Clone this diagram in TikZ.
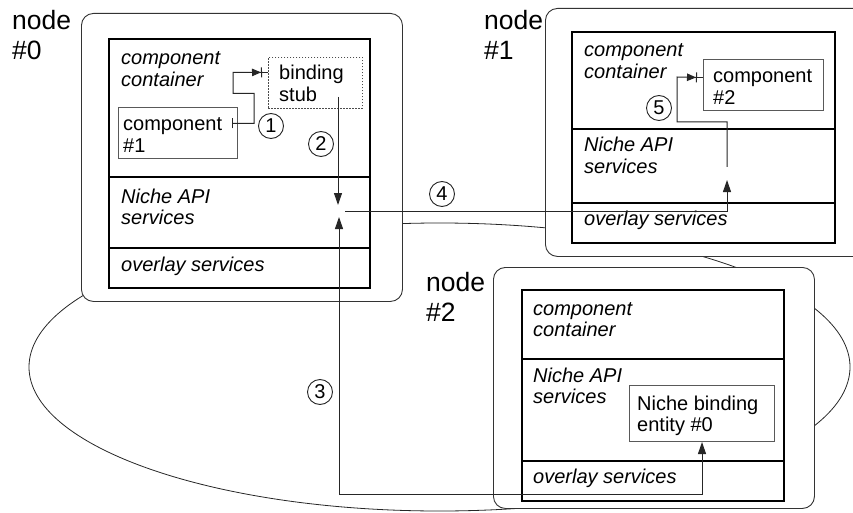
\documentclass[tikz,border=0pt]{standalone}
\usepackage{fontspec}
\setmainfont{Liberation Sans}
\usetikzlibrary{arrows.meta}
% two stacked lines whose baseline is the first line's baseline
\newcommand\twolines[2]{\vtop{\hbox{#1}\hbox{#2}}}
\tikzset{
  ring/.style={draw=black!85, line width=0.8pt},
  outerbox/.style={draw=black!80, line width=0.9pt, rounded corners=12pt, fill=white,
    anchor=north west, inner sep=0pt},
  layer/.style={draw=black, line width=2.4pt, fill=white, anchor=north west, inner sep=0pt},
  compbox/.style={draw=black!65, line width=1pt, fill=white, anchor=north west, inner sep=0pt},
  stubbox/.style={draw=black!70, line width=0.8pt, dash pattern=on 1.5pt off 1.5pt,
    fill=white, anchor=north west, inner sep=0pt},
  layertxt/.style={font=\fontsize{20}{21.5}\selectfont\itshape, inner sep=0pt, anchor=base west},
  boxtxt/.style={font=\fontsize{20}{21.5}\selectfont, inner sep=0pt, anchor=base west},
  nodelbl/.style={font=\fontsize{26.5}{30}\selectfont, inner sep=0pt, anchor=base west},
  numc/.style={circle, draw=black!85, line width=0.9pt, fill=white, minimum size=25pt,
    inner sep=0pt, font=\fontsize{20}{20}\selectfont},
  conn/.style={draw=black!85, line width=1pt},
  >={Triangle[length=12pt,width=8pt]},
  barend/.tip={Bar[width=10pt]},
  arrbar/.tip={Triangle[length=9pt,width=7.5pt] Bar[width=10pt]}
}
\begin{document}
\begin{tikzpicture}[x=1pt,y=-1pt]
\useasboundingbox (0,0) rectangle (853,513);

% overlay ring joining the three nodes
\draw[ring] (439.5,367) ellipse [x radius=410.5pt, y radius=144pt];

% ---- node #0 ----
\node[outerbox, minimum width=321pt, minimum height=288pt] (n0) at (81,13) {};
\node[layer, minimum width=261pt, minimum height=138pt] (cc0) at (108,38) {};
\node[layer, minimum width=261pt, minimum height=71pt] (api0) at (108,176) {};
\node[layer, minimum width=261pt, minimum height=40pt] (ov0) at (108,247) {};
\node[compbox, minimum width=119pt, minimum height=51pt] (comp1) at (118,107) {};
\node[stubbox, minimum width=94pt, minimum height=51pt] (stub) at (268,57) {};
\node[layertxt] (cc0t) at (121,65) {\twolines{component}{container}};
\node[layertxt] (api0t) at (121,203) {\twolines{Niche API}{services}};
\node[layertxt] (ov0t) at (121,271) {overlay services};
\node[boxtxt] (comp1t) at (123,131) {\twolines{component}{\#1}};
\node[boxtxt] (stubt) at (279,80) {\twolines{binding}{stub}};
\node[nodelbl] (l0) at (12,30) {\twolines{node}{\#0}};

% ---- node #1 ----
\node[outerbox, minimum width=335pt, minimum height=248pt] (n1) at (545,8) {};
\node[layer, minimum width=263pt, minimum height=97pt] (cc1) at (571,31) {};
\node[layer, minimum width=263pt, minimum height=74pt] (api1) at (571,128) {};
\node[layer, minimum width=263pt, minimum height=40pt] (ov1) at (571,202) {};
\node[compbox, minimum width=120pt, minimum height=51pt] (comp2) at (703,59) {};
\node[layertxt] (cc1t) at (584,57) {\twolines{component}{container}};
\node[layertxt] (api1t) at (584,152) {\twolines{Niche API}{services}};
\node[layertxt] (ov1t) at (584,225) {overlay services};
\node[boxtxt] (comp2t) at (713,83) {\twolines{component}{\#2}};
\node[nodelbl] (l1) at (484,30) {\twolines{node}{\#1}};

% ---- node #2 ----
\node[outerbox, minimum width=321pt, minimum height=241pt] (n2) at (493,267) {};
\node[layer, minimum width=262pt, minimum height=69pt] (cc2) at (521,289) {};
\node[layer, minimum width=262pt, minimum height=102pt] (api2) at (521,358) {};
\node[layer, minimum width=262pt, minimum height=40pt] (ov2) at (521,460) {};
\node[compbox, minimum width=145pt, minimum height=56pt] (bind) at (629,385) {};
\node[layertxt] (cc2t) at (533,315) {\twolines{component}{container}};
\node[layertxt] (api2t) at (533,382) {\twolines{Niche API}{services}};
\node[layertxt] (ov2t) at (533,483) {overlay services};
\node[boxtxt] (bindt) at (637,410) {\twolines{Niche binding}{entity \#0}};
\node[nodelbl] (l2) at (426,291) {\twolines{node}{\#2}};

% ---- interactions ----
\coordinate (s2) at (338,97);
\coordinate (e2) at (338,205);
\coordinate (s3) at (339,217);
\coordinate (s4) at (345,211);
\coordinate (e4) at (727,180);
\coordinate (s5) at (727,167);

% 1: component #1 binds to the stub
\draw[conn, {barend}-{arrbar}] ([xshift=-6pt,yshift=9.5pt]comp1.east) -- ++(22,0)
  -- ++(0,-30) -- ++(-21,0) -- ++(0,-21) -- ([xshift=-6pt,yshift=10.5pt]stub.west);
\draw[conn] ([xshift=-6pt,yshift=10.5pt]stub.west) -- ([yshift=10.5pt]stub.west);
% 2: stub calls the Niche API
\draw[conn, ->] (s2) -- (e2);
% 3: request to the binding entity on node #2
\draw[conn, <->] (s3) |- ([yshift=-52pt]bind.south) -- (bind.south);
% 4: delivery to node #1
\draw[conn, ->] (s4) -| (e4);
% 5: delivery to component #2
\draw[conn, -{arrbar}] (s5) -- ++(0,-45) -- ++(-50,0) -- ++(0,-45)
  -- ([xshift=-6pt,yshift=7.5pt]comp2.west);
\draw[conn] ([xshift=-6pt,yshift=7.5pt]comp2.west) -- ([yshift=7.5pt]comp2.west);

% step numbers
\node[numc] (c1) at (271,126) {1};
\node[numc] (c2) at (321,144) {2};
\node[numc] (c3) at (320,392) {3};
\node[numc] (c4) at (442,194) {4};
\node[numc] (c5) at (659,108) {5};
\end{tikzpicture}
\end{document}
